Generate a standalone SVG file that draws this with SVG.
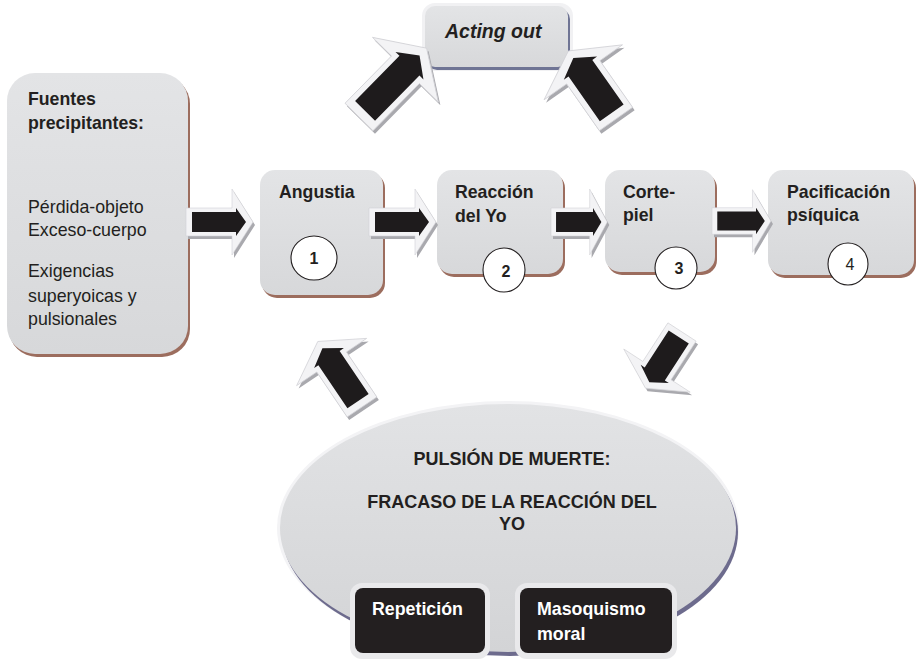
<svg xmlns="http://www.w3.org/2000/svg" xmlns:xlink="http://www.w3.org/1999/xlink" width="917" height="663" viewBox="0 0 917 663">
<defs>
<style>
text{font-family:"Liberation Sans",Arial,sans-serif;fill:#231f20}
.b{font-weight:bold;font-size:17.7px}
.r{font-size:17.8px}
.w{fill:#ffffff;font-weight:bold;font-size:17.8px}
.box{fill:url(#gbox)}
.sh{fill:#9c6d5e}
.num{fill:#ffffff;stroke:#231f20;stroke-width:1.1}
.nt{font-size:16px;text-anchor:middle}
.ash{fill:#a9a9ae}
.aout{fill:#f3f3f5;stroke:#d2d2d6;stroke-width:0.6}
.ain{fill:#1e1b1c}
</style>
<linearGradient id="gbox" x1="0" y1="0" x2="0" y2="1">
<stop offset="0" stop-color="#e3e4e6"/>
<stop offset="1" stop-color="#d7d8da"/>
</linearGradient>
<linearGradient id="gell" x1="0" y1="0" x2="0" y2="1">
<stop offset="0" stop-color="#e2e3e5"/>
<stop offset="1" stop-color="#d3d4d6"/>
</linearGradient>
<path id="ao" d="M0,-14H46V-33L67,0L46,33V14H0Z"/>
<path id="ai" d="M6,-10H50V-14L60,0L50,14V10H6Z"/>
</defs>
<rect width="917" height="663" fill="#ffffff"/>

<g id="fuentes">
<rect class="sh" x="9" y="76" width="181" height="281" rx="28"/>
<rect class="box" x="7" y="73" width="181" height="281" rx="28"/>
<text class="b" x="28" y="105">Fuentes</text>
<text class="b" x="28" y="129">precipitantes:</text>
<text class="r" x="28" y="213">Pérdida-objeto</text>
<text class="r" x="28" y="236">Exceso-cuerpo</text>
<text class="r" x="28" y="277">Exigencias</text>
<text class="r" x="28" y="302">superyoicas y</text>
<text class="r" x="28" y="325">pulsionales</text>
</g>

<g id="angustia">
<rect class="sh" x="262" y="173" width="123" height="125" rx="15"/>
<rect class="box" x="260" y="170" width="123" height="125" rx="15"/>
<text class="b" x="279" y="198">Angustia</text>
<ellipse class="num" cx="314" cy="258" rx="23" ry="22"/>
<text class="b nt" x="314" y="264">1</text>
</g>

<g id="reaccion">
<rect class="sh" x="439" y="173" width="126" height="104" rx="15"/>
<rect class="box" x="437" y="170" width="126" height="104" rx="15"/>
<text class="b" x="455" y="198">Reacción</text>
<text class="b" x="455" y="222">del Yo</text>
<ellipse class="num" cx="504" cy="270" rx="21" ry="22"/>
<text class="b nt" x="506" y="277">2</text>
</g>

<g id="corte">
<rect class="sh" x="607" y="173" width="110" height="102" rx="15"/>
<rect class="box" x="605" y="170" width="110" height="102" rx="15"/>
<text class="b" x="623" y="198">Corte-</text>
<text class="b" x="623" y="221">piel</text>
<ellipse class="num" cx="676" cy="268" rx="21" ry="21"/>
<text class="b nt" x="679" y="274">3</text>
</g>

<g id="pacificacion">
<rect class="sh" x="770" y="173" width="146" height="105" rx="15"/>
<rect class="box" x="768" y="170" width="146" height="105" rx="15"/>
<text class="b" x="787" y="198">Pacificación</text>
<text class="b" x="787" y="221">psíquica</text>
<ellipse class="num" cx="848" cy="264" rx="20" ry="21"/>
<text class="r nt" x="850" y="270">4</text>
</g>

<g id="acting">
<rect x="422" y="3" width="151" height="68" rx="13" fill="#f1f1f3"/>
<rect x="427" y="9" width="143" height="61" rx="10" fill="#6f7494"/>
<rect class="box" x="425" y="6" width="143" height="61" rx="10"/>
<text x="445" y="38" style="font-weight:bold;font-style:italic;font-size:19.5px">Acting out</text>
</g>

<g id="pulsion">
<ellipse cx="508" cy="528" rx="231" ry="127" fill="#f3f3f5"/>
<ellipse cx="510" cy="532" rx="228" ry="124" fill="#6d6b8d"/>
<ellipse cx="508" cy="528" rx="228" ry="124" fill="url(#gell)"/>
<text class="b" x="512" y="465" text-anchor="middle" style="font-size:18px">PULSIÓN DE MUERTE:</text>
<text class="b" x="512" y="508" text-anchor="middle" style="font-size:18px">FRACASO DE LA REACCIÓN DEL</text>
<text class="b" x="512" y="530" text-anchor="middle" style="font-size:18px">YO</text>
</g>

<g id="repeticion">
<rect x="350" y="583" width="140" height="76" rx="12" fill="#e9e9eb"/>
<rect x="355" y="588" width="130" height="65" rx="8" fill="#231f20"/>
<text class="w" x="372" y="615">Repetición</text>
</g>

<g id="masoquismo">
<rect x="515" y="583" width="162" height="76" rx="12" fill="#e9e9eb"/>
<rect x="520" y="588" width="152" height="65" rx="8" fill="#231f20"/>
<text class="w" x="537" y="615">Masoquismo</text>
<text class="w" x="537" y="640">moral</text>
</g>

<g id="connectors">
<g transform="translate(186,222)">
<use xlink:href="#ao" class="ash" transform="translate(2,3)"/>
<use xlink:href="#ao" class="aout"/>
<use xlink:href="#ai" class="ain"/>
</g>
<g transform="translate(369,222)">
<use xlink:href="#ao" class="ash" transform="translate(2,3)"/>
<use xlink:href="#ao" class="aout"/>
<use xlink:href="#ai" class="ain"/>
</g>
<g transform="translate(551,222)">
<use xlink:href="#ao" class="ash" transform="translate(2,3) scale(0.84,1)"/>
<use xlink:href="#ao" class="aout" transform="scale(0.84,1)"/>
<use xlink:href="#ai" class="ain" transform="scale(0.84,1)"/>
</g>
<g transform="translate(712,221)">
<use xlink:href="#ao" class="ash" transform="translate(2,3) scale(0.88,0.95)"/>
<use xlink:href="#ao" class="aout" transform="scale(0.88,0.95)"/>
<use xlink:href="#ai" class="ain" transform="scale(0.88,0.95)"/>
</g>
<g transform="translate(359,117)">
<use xlink:href="#ao" class="ash" transform="translate(2,3) rotate(-45.5) scale(1.44,1.4)"/>
<use xlink:href="#ao" class="aout" transform="rotate(-45.5) scale(1.44,1.4)"/>
<use xlink:href="#ai" class="ain" transform="rotate(-45.5) scale(1.44,1.4)"/>
</g>
<g transform="translate(616,119)">
<use xlink:href="#ao" class="ash" transform="translate(2,3) rotate(-125) scale(1.24,1.45)"/>
<use xlink:href="#ao" class="aout" transform="rotate(-125) scale(1.24,1.45)"/>
<use xlink:href="#ai" class="ain" transform="rotate(-125) scale(1.24,1.45)"/>
</g>
<g transform="translate(362,407)">
<use xlink:href="#ao" class="ash" transform="translate(2,3) rotate(-124) scale(1.18,1.28)"/>
<use xlink:href="#ao" class="aout" transform="rotate(-124) scale(1.18,1.28)"/>
<use xlink:href="#ai" class="ain" transform="rotate(-124) scale(1.18,1.28)"/>
</g>
<g transform="translate(682,332)">
<use xlink:href="#ao" class="ash" transform="translate(2,3) rotate(123) scale(1.0,1.2)"/>
<use xlink:href="#ao" class="aout" transform="rotate(123) scale(1.0,1.2)"/>
<use xlink:href="#ai" class="ain" transform="rotate(123) scale(1.0,1.2)"/>
</g>
</g>
</svg>
